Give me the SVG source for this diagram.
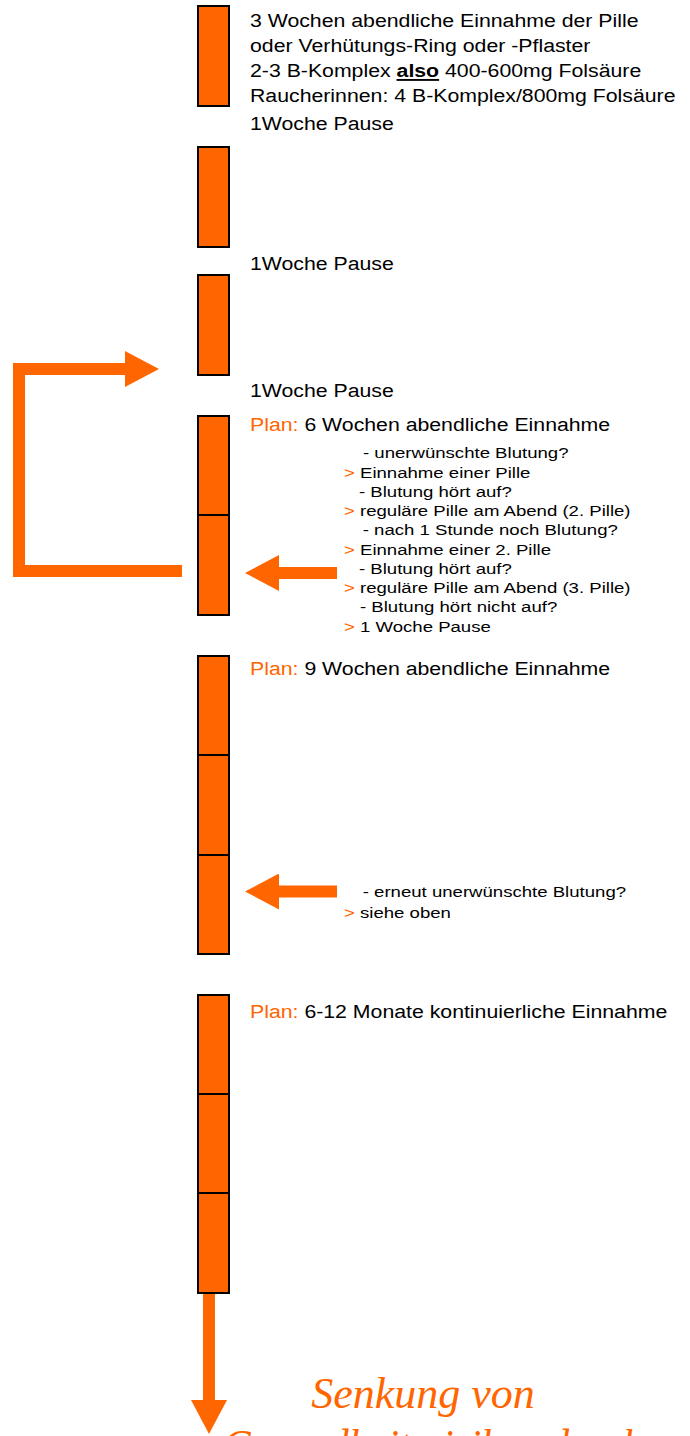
<svg xmlns="http://www.w3.org/2000/svg" width="690" height="1436" viewBox="0 0 690 1436">
<style>
.bar{fill:#FF6600;stroke:#000;stroke-width:2}
.t{font-family:"Liberation Sans",Arial,sans-serif;font-size:19px;fill:#000}
.s{font-family:"Liberation Sans",Arial,sans-serif;font-size:15px;fill:#000}
.o{fill:#FF6600}
.b{font-weight:bold;text-decoration:underline}
.arr{fill:none;stroke:#FF6600;stroke-width:12;stroke-linejoin:miter;stroke-linecap:butt}
.script{font-family:"Liberation Serif","DejaVu Serif",serif;font-style:italic;font-size:44px;fill:#FF6600}
</style>
<defs>
<marker id="head" markerUnits="userSpaceOnUse" viewBox="0 0 34 36" markerWidth="34" markerHeight="36" refX="0" refY="18" orient="auto">
<path d="M0,0 L34,18 L0,36 Z" fill="#FF6600"/>
</marker>
</defs>
<rect width="690" height="1436" fill="#fff"/>

<g id="connectors">
<path class="arr" d="M182,571 H19 V369 H125" marker-end="url(#head)"/>
<path class="arr" d="M337,573 H279" marker-end="url(#head)"/>
<path class="arr" d="M337,891.5 H279" marker-end="url(#head)"/>
<path class="arr" d="M209,1293 V1400" marker-end="url(#head)"/>
</g>

<g id="bar1"><rect class="bar" x="198" y="6" width="31" height="100"/></g>
<g id="bar2"><rect class="bar" x="198" y="147" width="31" height="100"/></g>
<g id="bar3"><rect class="bar" x="198" y="275" width="31" height="100"/></g>
<g id="bar4">
<rect class="bar" x="198" y="416" width="31" height="99"/>
<rect class="bar" x="198" y="515" width="31" height="100"/>
</g>
<g id="bar5">
<rect class="bar" x="198" y="656" width="31" height="99"/>
<rect class="bar" x="198" y="755" width="31" height="100"/>
<rect class="bar" x="198" y="855" width="31" height="99"/>
</g>
<g id="bar6">
<rect class="bar" x="198" y="995" width="31" height="99"/>
<rect class="bar" x="198" y="1094" width="31" height="99"/>
<rect class="bar" x="198" y="1193" width="31" height="100"/>
</g>

<g id="labels" transform="translate(250,0) scale(1.12,1)">
<text class="t" x="0" y="27.3">3 Wochen abendliche Einnahme der Pille</text>
<text class="t" x="0" y="52.2">oder Verhütungs-Ring oder -Pflaster</text>
<text class="t" x="0" y="77.1">2-3 B-Komplex <tspan class="b">also</tspan> 400-600mg Folsäure</text>
<text class="t" x="0" y="102">Raucherinnen: 4 B-Komplex/800mg Folsäure</text>
<text class="t" x="0" y="130">1Woche Pause</text>
<text class="t" x="0" y="270">1Woche Pause</text>
<text class="t" x="0" y="397">1Woche Pause</text>
<text class="t" x="0" y="430.7"><tspan class="o">Plan:</tspan> 6 Wochen abendliche Einnahme</text>
<text class="t" x="0" y="675"><tspan class="o">Plan:</tspan> 9 Wochen abendliche Einnahme</text>
<text class="t" x="0" y="1018"><tspan class="o">Plan:</tspan> 6-12 Monate kontinuierliche Einnahme</text>
</g>

<g id="steps1" transform="translate(344,0) scale(1.24,1)">
<text class="s" x="15.3" y="458.3">- unerwünschte Blutung?</text>
<text class="s" x="0" y="477.6"><tspan class="o">&gt;</tspan> Einnahme einer Pille</text>
<text class="s" x="12.1" y="496.8">- Blutung hört auf?</text>
<text class="s" x="0" y="516.1"><tspan class="o">&gt;</tspan> reguläre Pille am Abend (2. Pille)</text>
<text class="s" x="15.1" y="535.4">- nach 1 Stunde noch Blutung?</text>
<text class="s" x="0" y="554.7"><tspan class="o">&gt;</tspan> Einnahme einer 2. Pille</text>
<text class="s" x="12.1" y="573.9">- Blutung hört auf?</text>
<text class="s" x="0" y="593.2"><tspan class="o">&gt;</tspan> reguläre Pille am Abend (3. Pille)</text>
<text class="s" x="12.9" y="612.5">- Blutung hört nicht auf?</text>
<text class="s" x="0" y="631.7"><tspan class="o">&gt;</tspan> 1 Woche Pause</text>
</g>

<g id="steps2" transform="translate(344,0) scale(1.24,1)">
<text class="s" x="15.1" y="896.7">- erneut unerwünschte Blutung?</text>
<text class="s" x="0" y="918"><tspan class="o">&gt;</tspan> siehe oben</text>
</g>

<g id="result">
<text class="script" x="423" y="1408" text-anchor="middle">Senkung von</text>
<text class="script" x="223" y="1460" textLength="420" lengthAdjust="spacingAndGlyphs">Gesundheitsrisiken durch</text>
</g>
</svg>
